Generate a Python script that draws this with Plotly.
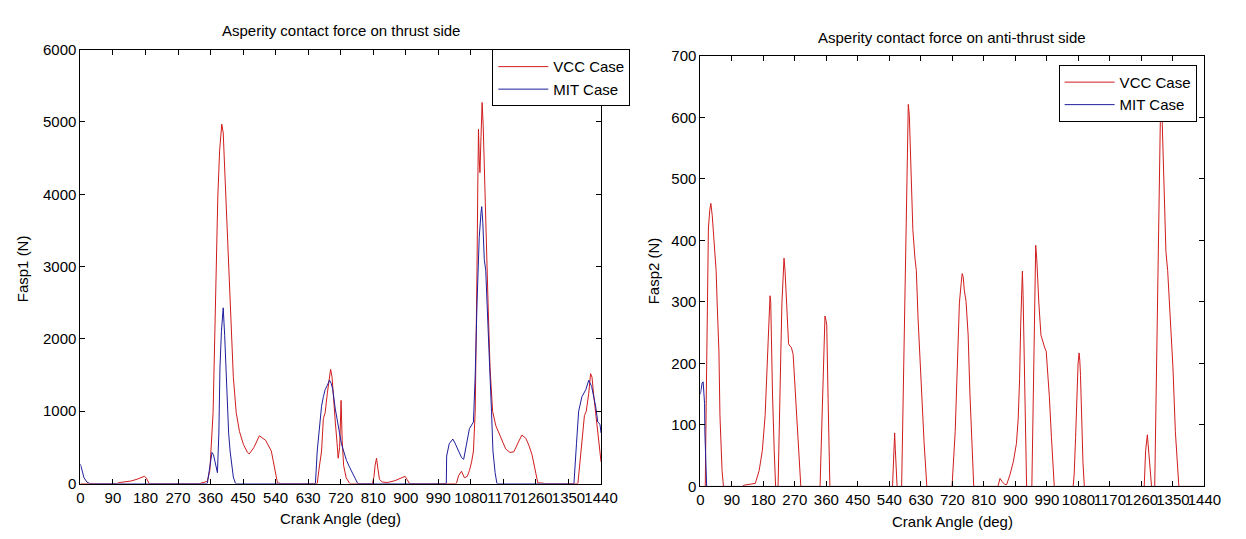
import plotly.graph_objects as go

# ---------------- data ----------------
thrust_vcc_angle = [0, 100, 110, 125, 140, 157, 170, 177, 182, 190, 330, 340, 347, 351, 358, 367, 375, 380, 385, 391,
                    395, 400, 405, 410, 415, 423, 431, 440, 451, 462, 467, 480, 495, 512, 528, 539, 545, 555, 655, 660,
                    667, 672, 677, 683, 689, 692, 696, 700, 705, 710, 713, 717, 721, 724, 728, 735, 745, 808, 812, 815,
                    819, 823, 827, 835, 850, 870, 885, 898, 903, 910, 1040, 1046, 1054, 1062, 1070, 1076, 1082, 1087,
                    1092, 1095, 1097, 1099, 1101, 1103, 1105, 1108, 1111, 1114, 1117, 1120, 1124, 1128, 1133, 1140,
                    1149, 1158, 1166, 1176, 1188, 1199, 1210, 1221, 1232, 1241, 1249, 1255, 1260, 1265, 1280, 1285,
                    1376, 1381, 1387, 1394, 1399, 1406, 1411, 1415, 1419, 1425, 1431, 1437, 1440]
thrust_vcc = [0, 0, 15, 20, 35, 60, 85, 100, 80, 0, 0, 20, 25, 30, 180, 980, 2950, 3950, 4600, 4970,
              4850, 4200, 3600, 2950, 2400, 1470, 980, 720, 540, 430, 410, 500, 660, 600, 450, 180, 10, 0, 0, 200,
              450, 900, 980, 1250, 1520, 1580, 1470, 1160, 850, 550, 350, 500, 1150, 600, 250, 80, 0, 0, 100, 250,
              350, 200, 60, 20, 15, 40, 70, 100, 60, 0, 0, 110, 170, 80, 100, 180, 300, 450,
              1000, 2000, 3000, 4100, 4900, 4500, 4300, 4800, 5270, 4950, 4400, 3600, 3000, 2400, 1600, 1000,
              800, 700, 600, 480, 430, 440, 560, 670, 625, 520, 400, 250, 90, 10, 5, 0,
              0, 270, 620, 940, 1000, 1250, 1520, 1470, 1250, 980, 710, 400, 300]

thrust_mit_angle = [0, 5, 10, 18, 26, 351, 355, 360, 364, 368, 373, 379, 383, 386, 390, 395, 399, 403, 406, 410,
                    414, 418, 423, 429, 650, 655, 661, 667, 672, 677, 683, 689, 694, 698, 705, 711, 717, 722, 728,
                    736, 745, 755, 764, 767, 1012, 1013, 1020, 1027, 1030, 1036, 1045, 1054, 1060, 1068, 1076, 1087,
                    1092, 1097, 1103, 1108, 1110, 1113, 1117, 1121, 1126, 1132, 1137, 1141, 1147, 1152, 1365, 1368,
                    1372, 1378, 1387, 1398, 1406, 1414, 1420, 1425, 1431, 1437, 1440]
thrust_mit = [270, 180, 80, 20, 0, 0, 150, 350, 430, 400, 260, 150, 700, 1600, 2100, 2430, 2050, 1500, 1070, 700,
              450, 250, 90, 0, 0, 450, 800, 1070, 1200, 1300, 1360, 1430, 1380, 1300, 1030, 850, 670, 550, 450,
              320, 220, 110, 20, 0, 0, 380, 550, 600, 615, 560, 450, 360, 335, 550, 760, 850,
              1500, 2500, 3400, 3750, 3830, 3600, 3100, 2950, 2200, 1600, 1000, 450, 150, 0, 0, 300,
              550, 1000, 1200, 1300, 1430, 1340, 1200, 1070, 850, 820, 700]

anti_vcc_angle = [0, 14, 17, 20, 23, 27, 30, 34, 39, 45, 48, 53, 56, 62, 66, 120, 125, 140, 157, 168, 177, 185, 190,
                  194, 197, 199, 201, 203, 206, 211, 215, 222, 226, 230, 233, 236, 239, 242, 246, 252, 256, 260, 265,
                  271, 280, 287, 342, 347, 353, 356, 359, 361, 365, 370, 549, 553, 555, 557, 559, 562, 575, 580, 585,
                  588, 592, 594, 597, 603, 607, 613, 617, 622, 630, 639, 647, 719, 728, 734, 740, 745, 748, 751, 754,
                  759, 765, 770, 776, 781, 850, 853, 856, 862, 870, 875, 885, 894, 903, 908, 912, 915, 918, 920, 922,
                  925, 928, 932, 947, 950, 953, 955, 958, 961, 964, 967, 973, 978, 984, 988, 993, 997, 1003, 1011,
                  1065, 1068, 1072, 1076, 1079, 1082, 1084, 1086, 1089, 1093, 1097, 1268, 1272, 1277, 1279, 1283,
                  1289, 1298, 1303, 1308, 1311, 1314, 1317, 1320, 1325, 1330, 1335, 1342, 1350, 1357, 1367, 1440]
anti_vcc = [0, 0, 150, 300, 420, 450, 460, 440, 397, 351, 298, 220, 115, 26, 0, 0, 2, 3, 5, 26, 58, 115, 194,
            256, 300, 310, 300, 235, 152, 58, 0, 0, 141, 220, 298, 340, 371, 350, 298, 232, 228, 226, 215,
            152, 73, 0, 0, 115, 246, 277, 270, 262, 141, 0, 0, 78, 87, 60, 26, 0, 0, 168, 351,
            482, 600, 621, 603, 503, 418, 371, 351, 272, 168, 73, 0, 0, 89, 194, 298, 330, 346, 340, 319,
            301, 246, 152, 58, 0, 0, 8, 13, 8, 3, 3, 20, 40, 70, 110, 175, 260, 330, 350, 310,
            204, 110, 0, 0, 120, 250, 330, 392, 370, 330, 298, 246, 235, 225, 220, 180, 146, 80, 0,
            0, 20, 80, 160, 199, 217, 205, 180, 115, 40, 0, 0, 58, 84, 70, 37,
            0, 0, 194, 351, 513, 592, 640, 576, 461, 382, 351, 272, 194, 89, 0, 0]

anti_mit_angle = [0, 2, 5, 8, 10, 12, 13, 14, 16, 18, 1440]
anti_mit = [150, 160, 168, 170, 150, 135, 85, 40, 35, 0, 0]

crank_ticks = list(range(0, 1441, 90))
thrust_yticks = [0, 1000, 2000, 3000, 4000, 5000, 6000]
anti_yticks = [0, 100, 200, 300, 400, 500, 600, 700]

titles = ["Asperity contact force on thrust side", "Asperity contact force on anti-thrust side"]
x_title = "Crank Angle (deg)"
y_titles = ["Fasp1 (N)", "Fasp2 (N)"]
series_names = ["VCC Case", "MIT Case"]

# ---------------- styling ----------------
W, H = 1246, 539
RED = "#d01c1c"
BLUE = "#1e1e9c"
FONT = "Liberation Sans, Arial, sans-serif"
FS = 15

def px_x(p):
    return p / W

def px_y(p):
    return 1 - p / H

fig = go.Figure()

fig.add_trace(go.Scatter(x=thrust_vcc_angle, y=thrust_vcc, mode="lines", name=series_names[0],
                         line=dict(color=RED, width=1), xaxis="x", yaxis="y", legend="legend"))
fig.add_trace(go.Scatter(x=thrust_mit_angle, y=thrust_mit, mode="lines", name=series_names[1],
                         line=dict(color=BLUE, width=1), xaxis="x", yaxis="y", legend="legend"))
fig.add_trace(go.Scatter(x=anti_vcc_angle, y=anti_vcc, mode="lines", name=series_names[0],
                         line=dict(color=RED, width=1), xaxis="x2", yaxis="y2", legend="legend2"))
fig.add_trace(go.Scatter(x=anti_mit_angle, y=anti_mit, mode="lines", name=series_names[1],
                         line=dict(color=BLUE, width=1), xaxis="x2", yaxis="y2", legend="legend2"))

axis_common = dict(showline=True, linecolor="black", linewidth=1, mirror="ticks", ticks="inside",
                   ticklen=5, tickcolor="black", showgrid=False, zeroline=False, tickangle=0,
                   tickfont=dict(family=FONT, size=FS, color="black"))

# left panel: x 77.7..607.3, y 42..490 ; right panel: x 708.3..1221, y 48.3..493
L = dict(x0=77.7, x1=607.3, y0=42, y1=490)
R = dict(x0=708.3, x1=1221, y0=48.3, y1=493)

fig.update_layout(
    width=W, height=H,
    margin=dict(l=0, r=0, t=0, b=0),
    paper_bgcolor="white", plot_bgcolor="white",
    font=dict(family=FONT, size=FS, color="black"),
    xaxis=dict(domain=[px_x(L["x0"]), px_x(L["x1"])], range=[0, 1440], tickvals=crank_ticks,
               ticktext=[str(t) for t in crank_ticks], anchor="y", **axis_common),
    yaxis=dict(domain=[px_y(L["y1"]), px_y(L["y0"])], range=[0, 6000], tickvals=thrust_yticks,
               ticktext=[str(t) for t in thrust_yticks], anchor="x", **axis_common),
    xaxis2=dict(domain=[px_x(R["x0"]), px_x(R["x1"])], range=[0, 1440], tickvals=crank_ticks,
                ticktext=[str(t) for t in crank_ticks], anchor="y2", **axis_common),
    yaxis2=dict(domain=[px_y(R["y1"]), px_y(R["y0"])], range=[0, 700], tickvals=anti_yticks,
                ticktext=[str(t) for t in anti_yticks], anchor="x2", **axis_common),
    showlegend=True,
    legend=dict(x=px_x(496.7), y=px_y(41.7), xanchor="left", yanchor="top", bgcolor="white",
                bordercolor="black", borderwidth=1, font=dict(family=FONT, size=FS, color="black"),
                itemwidth=50, tracegroupgap=0),
    legend2=dict(x=px_x(1072.7), y=px_y(57.7), xanchor="left", yanchor="top", bgcolor="white",
                 bordercolor="black", borderwidth=1, font=dict(family=FONT, size=FS, color="black"),
                 itemwidth=50, tracegroupgap=0),
)

annotations = [
    dict(text=titles[0], x=px_x((L["x0"] + L["x1"]) / 2), y=px_y(22), xref="paper", yref="paper",
         xanchor="center", yanchor="middle", showarrow=False, font=dict(family=FONT, size=FS)),
    dict(text=titles[1], x=px_x((R["x0"] + R["x1"]) / 2), y=px_y(29.5), xref="paper", yref="paper",
         xanchor="center", yanchor="middle", showarrow=False, font=dict(family=FONT, size=FS)),
    dict(text=x_title, x=px_x((L["x0"] + L["x1"]) / 2), y=px_y(526), xref="paper", yref="paper",
         xanchor="center", yanchor="middle", showarrow=False, font=dict(family=FONT, size=FS)),
    dict(text=x_title, x=px_x((R["x0"] + R["x1"]) / 2), y=px_y(529), xref="paper", yref="paper",
         xanchor="center", yanchor="middle", showarrow=False, font=dict(family=FONT, size=FS)),
    dict(text=y_titles[0], x=px_x(19), y=px_y(268), xref="paper", yref="paper", textangle=-90,
         xanchor="center", yanchor="middle", showarrow=False, font=dict(family=FONT, size=FS)),
    dict(text=y_titles[1], x=px_x(661), y=px_y(270), xref="paper", yref="paper", textangle=-90,
         xanchor="center", yanchor="middle", showarrow=False, font=dict(family=FONT, size=FS)),
]
fig.update_layout(annotations=annotations)

fig.write_html("out.html")
